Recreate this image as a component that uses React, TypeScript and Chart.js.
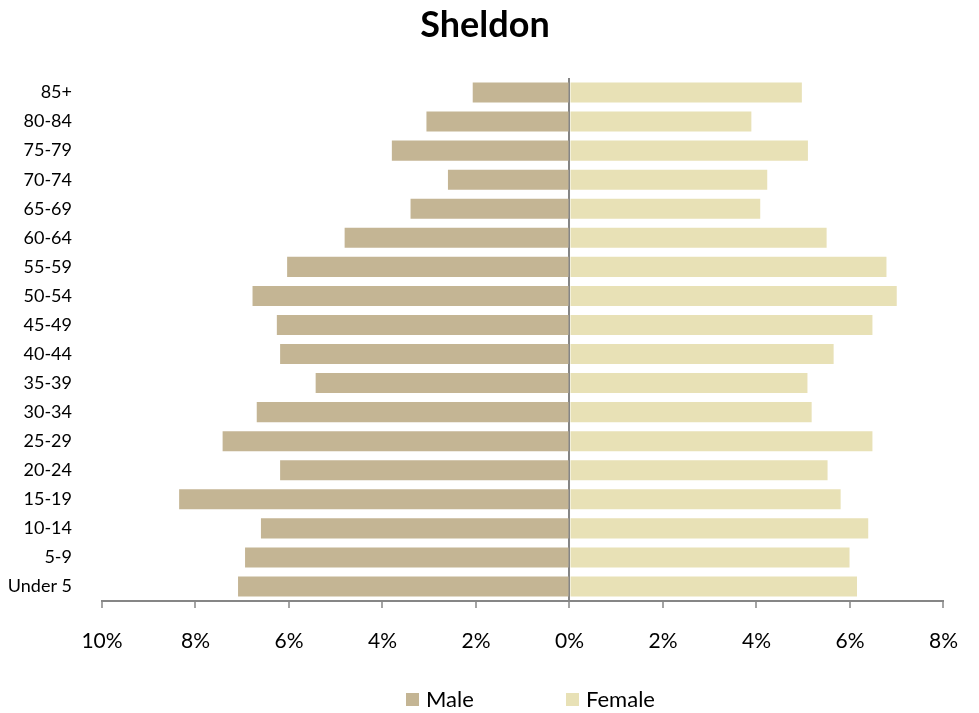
import React, { useEffect, useRef } from "react";
import { Chart, registerables } from "chart.js";

Chart.register(...registerables);

const ageGroups = [
  "85+", "80-84", "75-79", "70-74", "65-69", "60-64", "55-59", "50-54", "45-49",
  "40-44", "35-39", "30-34", "25-29", "20-24", "15-19", "10-14", "5-9", "Under 5",
];
const malePct = [
  2.07, 3.06, 3.8, 2.6, 3.4, 4.81, 6.04, 6.78, 6.26,
  6.19, 5.43, 6.69, 7.42, 6.19, 8.35, 6.6, 6.94, 7.09,
];
const femalePct = [
  4.97, 3.89, 5.1, 4.23, 4.08, 5.5, 6.78, 7.0, 6.48,
  5.65, 5.09, 5.18, 6.48, 5.52, 5.8, 6.39, 5.99, 6.15,
];
const xTicks = [-10, -8, -6, -4, -2, 0, 2, 4, 6, 8];
const titleText = "Sheldon";
const seriesNames = ["Male", "Female"];
const seriesColors = ["#C4B594", "#E8E1B6"];

const FONT = "Lato, 'Open Sans', sans-serif";
const AXIS_GRAY = "#868686";

const decorPlugin = {
  id: "decor",
  afterDraw(chart: any) {
    const ctx = chart.ctx;
    ctx.save();
    // title
    ctx.font = `bold 36px ${FONT}`;
    ctx.fillStyle = "#000";
    ctx.textAlign = "center";
    ctx.textBaseline = "alphabetic";
    ctx.fillText(titleText, 485, 37);
    // legend
    const items = chart.data.datasets.map((d: any) => ({ label: d.label, color: d.backgroundColor }));
    const xs = [406, 566];
    ctx.font = `22px ${FONT}`;
    ctx.textAlign = "left";
    items.forEach((it: any, i: number) => {
      const x = xs[i];
      ctx.fillStyle = it.color;
      ctx.fillRect(x, 693, 13, 13);
      ctx.fillStyle = "#000";
      ctx.fillText(it.label, x + 20, 706.5);
    });
    ctx.restore();
  },
};

export default function App() {
  const ref = useRef<HTMLCanvasElement | null>(null);

  useEffect(() => {
    if (!ref.current) return;
    const chart = new Chart(ref.current, {
      type: "bar",
      data: {
        labels: ageGroups,
        datasets: [
          {
            label: seriesNames[0],
            data: malePct.map((v) => -v),
            backgroundColor: seriesColors[0],
            barPercentage: 0.69,
            categoryPercentage: 1,
          },
          {
            label: seriesNames[1],
            data: femalePct,
            backgroundColor: seriesColors[1],
            barPercentage: 0.69,
            categoryPercentage: 1,
          },
        ],
      },
      options: {
        indexAxis: "y",
        responsive: false,
        animation: false,
        layout: { padding: { left: 0, right: 35, top: 78, bottom: 0 } },
        plugins: {
          legend: { display: false },
          tooltip: { enabled: false },
          title: { display: false },
        },
        scales: {
          x: {
            stacked: true,
            min: -10,
            max: 8,
            afterBuildTicks: (scale: any) => {
              scale.ticks = xTicks.map((v) => ({ value: v }));
            },
            afterFit: (scale: any) => {
              scale.height = 112;
            },
            ticks: {
              color: "#000",
              font: { family: FONT, size: 21 },
              padding: 21,
              maxRotation: 0,
              callback: (v: any) => `${Math.abs(Number(v))}%`,
            },
            grid: {
              drawOnChartArea: true,
              color: (c: any) => (c.tick && c.tick.value === 0 ? AXIS_GRAY : "rgba(0,0,0,0)"),
              lineWidth: 2,
              tickColor: AXIS_GRAY,
              tickLength: 7,
              tickWidth: 1.5,
            },
            border: { display: true, color: AXIS_GRAY, width: 2 },
          },
          y: {
            stacked: true,
            afterFit: (scale: any) => {
              scale.width = 102;
            },
            ticks: {
              color: "#000",
              font: { family: FONT, size: 18 },
              padding: 22,
              autoSkip: false,
            },
            grid: { display: false },
            border: { display: false },
          },
        },
      },
      plugins: [decorPlugin],
    } as any);
    return () => chart.destroy();
  }, []);

  return (
    <div style={{ position: "absolute", left: 0, top: 0, width: 979, height: 713, background: "#fff" }}>
      <canvas ref={ref} width={979} height={713} style={{ display: "block" }} />
    </div>
  );
}
